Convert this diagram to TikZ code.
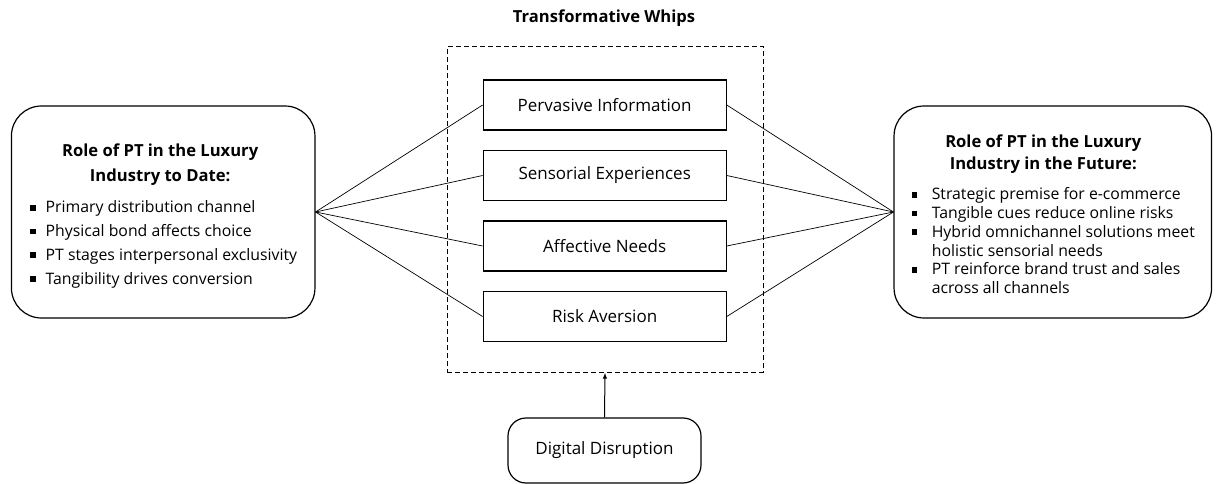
\documentclass[tikz,border=0pt]{standalone}
\usepackage{fontspec}
\setmainfont{Open Sans}
\usetikzlibrary{arrows.meta}

\tikzset{every picture/.style={line width=0.75pt}}
\tikzset{
  rolebox/.style={draw, line width=1.2pt, rounded corners=30pt, inner sep=0pt},
  whipbox/.style={draw, line width=1.2pt, minimum width=243pt, minimum height=50pt, inner sep=0pt, font=\fontsize{17}{20}\selectfont},
  link/.style={line width=0.7pt},
}
\newlength{\bindent}
\newcommand{\sqbullet}{\rule[0.14em]{0.36em}{0.36em}}
\newcommand{\bline}[1]{\noindent\makebox[\bindent][l]{\sqbullet}\mbox{#1}\par}
\newcommand{\contline}[1]{\noindent\hspace*{\bindent}\mbox{#1}\par}

\begin{document}
\begin{tikzpicture}[x=1pt,y=1pt,yscale=-1,xscale=1]
\useasboundingbox (0,0) rectangle (1216,484);

%Shape: Dashed frame [id:whips]
\node [draw, line width=0.9pt, dash pattern={on 5pt off 3pt}, minimum width=316pt, minimum height=325.5pt, inner sep=0pt] (frame) at (605,209.5) {};
% Text Node
\node [font=\fontsize{16.6}{18}\selectfont\bfseries] (whipstitle) at (604,18) {Transformative Whips};

%Shape: Whip boxes
\node [whipbox] (pervasive) at (604.7,105) {Pervasive Information};
\node [whipbox] (sensorial) at (604.7,175.5) {Sensorial Experiences};
\node [whipbox] (affective) at (604.7,246) {Affective Needs};
\node [whipbox] (risk) at (604.7,316.5) {Risk Aversion};

%Shape: Left box [id:todate]
\node [rolebox, minimum width=303.5pt, minimum height=212pt] (todate) at (163.2,212) {\parbox{266pt}{\fontsize{15.8}{23.7}\selectfont\setlength{\bindent}{15.5pt}
  \vspace*{8pt}
  {\fontsize{16.6}{25}\selectfont\bfseries
  \noindent\makebox[260pt]{Role of PT in the Luxury}\par
  \noindent\makebox[260pt]{Industry to Date:}\par}
  \vspace{7.3pt}
  \bline{Primary distribution channel}
  \bline{Physical bond affects choice}
  \bline{PT stages interpersonal exclusivity}
  \bline{Tangibility drives conversion}}};

%Shape: Right box [id:future]
\node [rolebox, minimum width=317.5pt, minimum height=212pt] (future) at (1052.8,212) {\parbox{282pt}{\fontsize{15.8}{18.8}\selectfont\setlength{\bindent}{20pt}
  \vspace*{5pt}
  {\fontsize{16.6}{22}\selectfont\bfseries
  \noindent\makebox[263pt]{Role of PT in the Luxury}\par
  \noindent\makebox[263pt]{Industry in the Future:}\par}
  \vspace{11.2pt}
  \bline{Strategic premise for e-commerce}
  \bline{Tangible cues reduce online risks}
  \bline{Hybrid omnichannel solutions meet}
  \contline{holistic sensorial needs}
  \bline{PT reinforce brand trust and sales}
  \contline{across all channels}}};

%Shape: Bottom box [id:digital]
\node [draw, line width=1.2pt, rounded corners=18pt, minimum width=193pt, minimum height=65pt, inner sep=0pt, font=\fontsize{17}{20}\selectfont] (digital) at (604.5,450.5) {Digital Disruption};

%Straight Lines
\foreach \w in {pervasive,sensorial,affective,risk}{
  \draw [link] (todate.east) -- (\w.west);
  \draw [link] (\w.east) -- (future.west);
}
\draw [line width=1pt, -{Latex[length=6pt,width=4.5pt]}] (digital.north) -- (frame.south);

\end{tikzpicture}
\end{document}
